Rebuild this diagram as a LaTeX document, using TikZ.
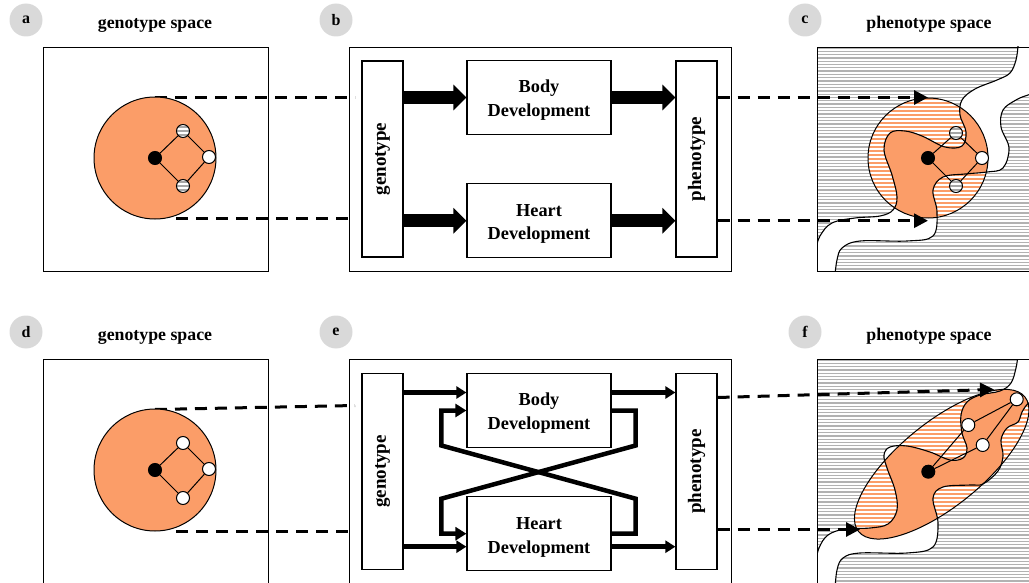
\documentclass[tikz,border=0pt]{standalone}
\usepackage{fontspec}
\setmainfont{Liberation Serif}
\usetikzlibrary{arrows.meta,positioning}
\definecolor{orangefill}{RGB}{251,157,104}
\definecolor{labelgray}{RGB}{217,217,217}
\definecolor{stripegray}{RGB}{178,178,178}
\newcommand{\twolines}[2]{\raisebox{-2.5pt}[\height][\depth]{\begin{tabular}{@{}c@{}}#1\\#2\end{tabular}}}
\tikzset{%
panel/.style={draw, line width=1.2pt, minimum width=225pt, minimum height=224pt, inner sep=0pt, anchor=north west},
widepanel/.style={panel, minimum width=382pt},
labelcirc/.style={circle, fill=labelgray, minimum size=33pt, inner sep=0pt, font=\fontsize{16}{16}\selectfont\bfseries},
title/.style={anchor=base, font=\fontsize{17.8}{20}\selectfont\bfseries},
devbox/.style={draw, line width=1.2pt, minimum width=144pt, minimum height=74pt, inner sep=0pt, font=\fontsize{18.3}{24}\selectfont\bfseries},
vbox/.style={draw, line width=1.2pt, minimum width=41pt, minimum height=196pt, inner sep=0pt, font=\fontsize{19}{20}\selectfont\bfseries},
fatarrow/.style={line width=13pt, -{Triangle[length=13pt 0 0, width=25pt 0 0]}},
midarrow/.style={line width=4.5pt, -{Triangle[length=10pt 0 0, width=12pt 0 0]}},
crossarrow/.style={line width=4.5pt, -{Triangle[length=11pt 0 0, width=13pt 0 0]}},
dashline/.style={line width=3pt, dash pattern=on 12pt off 8pt},
dasharrow/.style={dashline, -{Triangle[length=14pt 0 0, width=14pt 0 0]}},
bigcirc/.style={circle, draw, fill=orangefill, line width=1pt, minimum size=122pt, inner sep=0pt},
blacknode/.style={circle, draw, fill=black, line width=1pt, minimum size=13pt, inner sep=0pt},
whitenode/.style={circle, draw, fill=white, line width=1pt, minimum size=13pt, inner sep=0pt},
hatchnode/.style={whitenode, path picture={\foreach \k in {-4,0,4} \draw[gray!70, line width=2.1pt] ([yshift=\k pt]path picture bounding box.west) -- ([yshift=\k pt]path picture bounding box.east);}},
gedge/.style={line width=1pt},
stripe/.style={stripegray, line width=1.3pt},
orstripe/.style={white, line width=1.5pt},
bandline/.style={line width=1.1pt}
}
\def\bandC{plot[smooth, tension=0.6] coordinates {(815,252) (820,236) (832,223) (855,218) (880,216) (893,210) (897,197) (892,175) (884,150) (890,133) (905,131) (922,136) (945,147) (962,146) (966,132) (960,115) (962,100) (975,89) (997,80) (1010,73) (1016,60) (1018,46)}
 -- (1018,40) -- (1050,40) -- (1050,90)
 -- plot[smooth, tension=0.6] coordinates {(1045,90) (1028,95) (1016,100) (1003,110) (1001,127) (1009,148) (1003,168) (987,172) (965,174) (943,177) (933,190) (937,212) (933,236) (907,241) (860,241) (842,248) (837,260) (835,275)}
 -- (835,285) -- (810,285) -- (810,252) -- cycle}
\def\bandF{plot[smooth, tension=0.6] coordinates {(815,565) (819,548) (828,535) (845,529) (870,528) (888,524) (897,510) (895,490) (887,468) (884,455) (890,447) (907,446) (930,452) (950,460) (963,458) (967,448) (962,433) (961,415) (967,402) (980,395) (1000,391) (1011,383) (1016,368) (1018,355)}
 -- (1018,340) -- (1050,340) -- (1050,398)
 -- plot[smooth, tension=0.6] coordinates {(1045,398) (1030,402) (1022,412) (1018,422) (1007,428) (1001,440) (1003,456) (998,471) (983,484) (970,485) (943,487) (933,498) (938,523) (933,547) (907,553) (860,553) (843,558) (837,570) (835,590)}
 -- (810,590) -- (810,565) -- cycle}
\begin{document}
\begin{tikzpicture}[x=1pt, y=-1pt]
\useasboundingbox (0,0) rectangle (1029,583);

% landscapes of the phenotype panels
\begin{scope}
\clip (817,47) rectangle (1045,271);
\foreach \yy in {48,51.3,...,272} \draw[stripe] (817,\yy) -- (1045,\yy);
\fill[white] \bandC;
\begin{scope}
\clip (928,158) circle (60);
\fill[orangefill] (928,158) circle (60);
\foreach \yy in {97,101,...,221} \draw[orstripe] (860,\yy) -- (1000,\yy);
\fill[orangefill] \bandC;
\end{scope}
\draw[bandline] \bandC;
\end{scope}
\begin{scope}
\clip (817,359) rectangle (1045,595);
\foreach \yy in {360,363.3,...,594} \draw[stripe] (817,\yy) -- (1045,\yy);
\fill[white] \bandF;
\begin{scope}
\clip[rotate around={39:(941.7,464.2)}] (941.7,464.2) ellipse [x radius=107, y radius=42];
\fill[orangefill] (800,350) rectangle (1050,590);
\foreach \yy in {384,388,...,540} \draw[orstripe] (820,\yy) -- (1045,\yy);
\fill[orangefill] \bandF;
\end{scope}
\draw[bandline] \bandF;
\draw[line width=1pt, rotate around={39:(941.7,464.2)}] (941.7,464.2) ellipse [x radius=107, y radius=42];
\end{scope}

\node[labelcirc] (la) at (26,20) {a};
\node[labelcirc] (lb) at (336,20) {b};
\node[labelcirc] (lc) at (805,20) {c};
\node[labelcirc] (ld) at (26,332) {d};
\node[labelcirc] (le) at (336,332) {e};
\node[labelcirc] (lf) at (805,332) {f};
\node[title] (ta) at (155,28.5) {genotype space};
\node[title] (tc) at (929,28.5) {phenotype space};
\node[title] (td) at (155,340.5) {genotype space};
\node[title] (tf) at (929,340.5) {phenotype space};

\node[panel] (boxa) at (43,47) {};
\node[widepanel] (boxb) at (349,47) {};
\node[panel] (boxc) at (817,47) {};
\node[panel, minimum height=232pt] (boxd) at (43,359) {};
\node[widepanel, minimum height=232pt] (boxe) at (349,359) {};
\node[panel, minimum height=232pt] (boxf) at (817,359) {};

% top row
\node[vbox] (genob) at (382.5,159) {\rotatebox{90}{genotype}};
\node[devbox] (bodyb) at (539,97.5) {\twolines{Body}{Development}};
\node[devbox] (heartb) [below=48pt of bodyb] {\twolines{Heart}{Development}};
\node[vbox] (phenob) at (696.5,159) {\rotatebox{90}{phenotype}};
\draw[fatarrow] (bodyb.west -| genob.east) -- (bodyb.west);
\draw[fatarrow] (heartb.west -| genob.east) -- (heartb.west);
\draw[fatarrow] (bodyb.east) -- (bodyb.east -| phenob.west);
\draw[fatarrow] (heartb.east) -- (heartb.east -| phenob.west);

\draw[dashline] (155,97.5) coordinate (aTop) -- ([xshift=6pt]aTop -| boxb.west);
\draw[dashline] (176,218.5) coordinate (aBot) -- ([xshift=6pt]aBot -| boxb.west);
\node[bigcirc] (circa) at (155,158) {};
\node[blacknode] (a0) at (circa.center) {};
\node[hatchnode] (a1) at ([shift={(28,-27)}]a0.center) {};
\node[whitenode] (a2) at ([shift={(54,-1)}]a0.center) {};
\node[hatchnode] (a3) at ([shift={(28,28)}]a0.center) {};
\draw[gedge] (a0) -- (a1) -- (a2) -- (a3) -- (a0);

\node[circle, draw, line width=1pt, minimum size=120pt, inner sep=0pt] (circc) at (928,158) {};
\node[blacknode] (c0) at (circc.center) {};
\node[hatchnode] (c1) at ([shift={(28,-25)}]c0.center) {};
\node[whitenode] (c2) at ([shift={(54,0)}]c0.center) {};
\node[hatchnode] (c3) at ([shift={(28,28)}]c0.center) {};
\draw[gedge] (c0) -- (c1) -- (c2) -- (c3) -- (c0);
\draw[dasharrow] (bodyb.east -| phenob.east) -- (circc.north |- bodyb.east);
\draw[dasharrow] (heartb.east -| phenob.east) -- (circc.south |- heartb.east);

% bottom row
\node[vbox] (genoe) at (382.5,471.5) {\rotatebox{90}{genotype}};
\node[devbox] (bodye) at (539,410.5) {\twolines{Body}{Development}};
\node[devbox] (hearte) [below=48pt of bodye] {\twolines{Heart}{Development}};
\node[vbox] (phenoe) at (696.5,471.5) {\rotatebox{90}{phenotype}};
\draw[midarrow] ([yshift=18pt]bodye.west -| genoe.east) -- ([yshift=18pt]bodye.west);
\draw[midarrow] ([yshift=-13pt]hearte.west -| genoe.east) -- ([yshift=-13pt]hearte.west);
\draw[midarrow] ([yshift=18pt]bodye.east) -- ([yshift=18pt]bodye.east -| phenoe.west);
\draw[midarrow] ([yshift=-13pt]hearte.east) -- ([yshift=-13pt]hearte.east -| phenoe.west);
\draw[crossarrow] (bodye.east) -- ++(24,0) -- ++(0,35) -- ([xshift=-25pt,yshift=35pt]hearte.west) -- ([xshift=-25pt]hearte.west) -- (hearte.west);
\draw[crossarrow] (hearte.east) -- ++(24,0) -- ++(0,-35) -- ([xshift=-25pt,yshift=-35pt]bodye.west) -- ([xshift=-25pt]bodye.west) -- (bodye.west);

\draw[dashline] (155,409.5) coordinate (dTop) -- ([xshift=6pt,yshift=4pt]dTop -| boxe.west);
\draw[dashline] (176,531.5) coordinate (dBot) -- ([xshift=6pt]dBot -| boxe.west);
\node[bigcirc] (circd) at (155,470) {};
\node[blacknode] (d0) at (circd.center) {};
\node[whitenode] (d1) at ([shift={(28,-27)}]d0.center) {};
\node[whitenode] (d2) at ([shift={(54,-1)}]d0.center) {};
\node[whitenode] (d3) at ([shift={(28,28)}]d0.center) {};
\draw[gedge] (d0) -- (d1) -- (d2) -- (d3) -- (d0);

\node[blacknode] (f0) at (928.3,471.7) {};
\node[whitenode] (f1) at (968.3,425) {};
\node[whitenode] (f2) at (982.7,445) {};
\node[whitenode] (f3) at (1016.7,399.3) {};
\draw[gedge] (f0) -- (f1) -- (f3) -- (f2) -- (f0);
\coordinate (fTip1) at (994,389.5);
\coordinate (fTip2) at (860,529.5);
\draw[dasharrow] ([yshift=74pt]phenoe.east) -- (fTip1);
\draw[dasharrow] ([yshift=-58pt]phenoe.east) -- (fTip2);
\end{tikzpicture}
\end{document}
